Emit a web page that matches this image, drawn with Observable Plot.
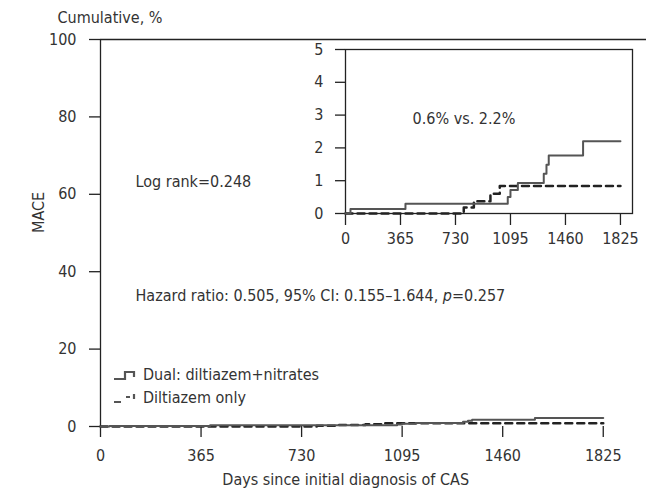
<!DOCTYPE html>
<html>
<head>
<meta charset="utf-8">
<script src="https://cdn.jsdelivr.net/npm/d3@7"></script>
<script src="https://cdn.jsdelivr.net/npm/@observablehq/plot@0.6"></script>
<style>
  body { margin: 0; background: #fff; }
  #wrap { position: relative; width: 646px; height: 494px; overflow: hidden;
          font-family: "Liberation Sans Narrow", "DejaVu Sans Condensed", sans-serif; color: #333; }
  .legend { position: absolute; font-size: 16px; line-height: 23px; color: #333; }
  .legend div { display: flex; align-items: center; white-space: nowrap; }
  .legend svg { display: block; margin-right: 5px; }
</style>
</head>
<body>
<div id="wrap"></div>
<script>
// ---- data ----
const dualDays = [0, 33, 398, 1077, 1095, 1144, 1316, 1334, 1349, 1577, 1825];
const dualCum  = [0, 0.14, 0.30, 0.50, 0.72, 0.93, 1.21, 1.49, 1.77, 2.20, 2.20];
const diltDays = [0, 785, 852, 962, 1024, 1825];
const diltCum  = [0, 0.18, 0.37, 0.60, 0.84, 0.84];
const xTicks = [0, 365, 730, 1095, 1460, 1825];
const yTicksMain = [0, 20, 40, 60, 80, 100];
const yTicksInset = [0, 1, 2, 3, 4, 5];
const seriesNames = ["Dual: diltiazem+nitrates", "Diltiazem only"];

const dual = dualDays.map((d, i) => ({day: d, cum: dualCum[i]}));
const dilt = diltDays.map((d, i) => ({day: d, cum: diltCum[i]}));

const FONT = '"Liberation Sans Narrow", "DejaVu Sans Condensed", sans-serif';
const LINE = "#555";
const AX = "#222";
const fmt = d => String(d);

const main = Plot.plot({
  width: 646, height: 494,
  marginLeft: 100, marginRight: 0, marginTop: 39, marginBottom: 68,
  style: {fontFamily: FONT, fontSize: "16px", color: "#333", background: "transparent", overflow: "visible"},
  x: {domain: [0, 1982], ticks: xTicks, tickFormat: fmt, tickSize: 11, tickPadding: 12, label: null},
  y: {domain: [0, 100], ticks: yTicksMain, tickFormat: fmt, tickSize: 11, tickPadding: 13, label: null},
  marks: [
    Plot.ruleY([100], {stroke: AX, strokeWidth: 1.3}),
    Plot.ruleX([0], {stroke: AX, strokeWidth: 1.3}),
    Plot.line(dilt, {x: "day", y: "cum", curve: "step-after", stroke: AX, strokeWidth: 2.5, strokeDasharray: "7,5"}),
    Plot.line(dual, {x: "day", y: "cum", curve: "step-after", stroke: LINE, strokeWidth: 2}),
    Plot.text(["Log rank=0.248"], {x: 127, y: 63.1, textAnchor: "start", fill: "#333"}),
    Plot.text(["Hazard ratio: 0.505, 95% CI: 0.155\u20131.644, p=0.257"], {x: 127, y: 33.8, textAnchor: "start", fill: "#333"}),
    Plot.text(["Cumulative, %"], {frameAnchor: "top-left", dx: -43, dy: -28, textAnchor: "start", fill: "#333"}),
    Plot.text(["MACE"], {frameAnchor: "left", dx: -62, rotate: -90, fill: "#333"}),
    Plot.text(["Days since initial diagnosis of CAS"], {x: 890, frameAnchor: "bottom", dy: 58, fill: "#333"})
  ]
});
main.style.position = "absolute"; main.style.left = "0px"; main.style.top = "0px";

// italic p in hazard text
d3.select(main).selectAll("text").each(function() {
  const t = this.textContent;
  if (t.startsWith("Hazard ratio")) {
    const el = d3.select(this); el.text(null);
    el.append("tspan").text("Hazard ratio: 0.505, 95% CI: 0.155\u20131.644, ");
    el.append("tspan").attr("font-style", "italic").text("p");
    el.append("tspan").text("=0.257");
  }
});
d3.select(main).selectAll('g[aria-label$="axis tick"]').attr("stroke", AX).attr("stroke-width", 1.3);

const inset = Plot.plot({
  width: 342, height: 223,
  marginLeft: 45, marginRight: 10, marginTop: 19, marginBottom: 40,
  style: {fontFamily: FONT, fontSize: "16px", color: "#333", background: "transparent", overflow: "visible"},
  x: {domain: [0, 1905], ticks: xTicks, tickFormat: fmt, tickSize: 12, tickPadding: 7, label: null},
  y: {domain: [0, 5], ticks: yTicksInset, tickFormat: fmt, tickSize: 10, tickPadding: 12, label: null},
  marks: [
    Plot.frame({stroke: AX, strokeWidth: 1.3}),
    Plot.line(dilt, {x: "day", y: "cum", curve: "step-after", stroke: AX, strokeWidth: 2.5, strokeDasharray: "7,5"}),
    Plot.line(dual, {x: "day", y: "cum", curve: "step-after", stroke: LINE, strokeWidth: 2}),
    Plot.text(["0.6% vs. 2.2%"], {x: 445, y: 2.9, textAnchor: "start", fill: "#333"})
  ]
});
inset.style.position = "absolute"; inset.style.left = "300px"; inset.style.top = "30px";
d3.select(inset).selectAll('g[aria-label$="axis tick"]').attr("stroke", AX).attr("stroke-width", 1.3);

const wrap = document.getElementById("wrap");
wrap.appendChild(main);
wrap.appendChild(inset);

// legend
const leg = document.createElement("div");
leg.className = "legend";
leg.style.left = "113px";
leg.style.top = "363px";
const swatches = [
  '<svg width="25" height="14"><path d="M1,11H12V4H21V9" fill="none" stroke="#555" stroke-width="2.2"/></svg>',
  '<svg width="25" height="14"><path d="M1,11H8M13,6H17M21,3V8" fill="none" stroke="#555" stroke-width="2.2"/></svg>'
];
seriesNames.forEach((n, i) => {
  const row = document.createElement("div");
  row.innerHTML = swatches[i] + "<span>" + n + "</span>";
  leg.appendChild(row);
});
wrap.appendChild(leg);
</script>
</body>
</html>
